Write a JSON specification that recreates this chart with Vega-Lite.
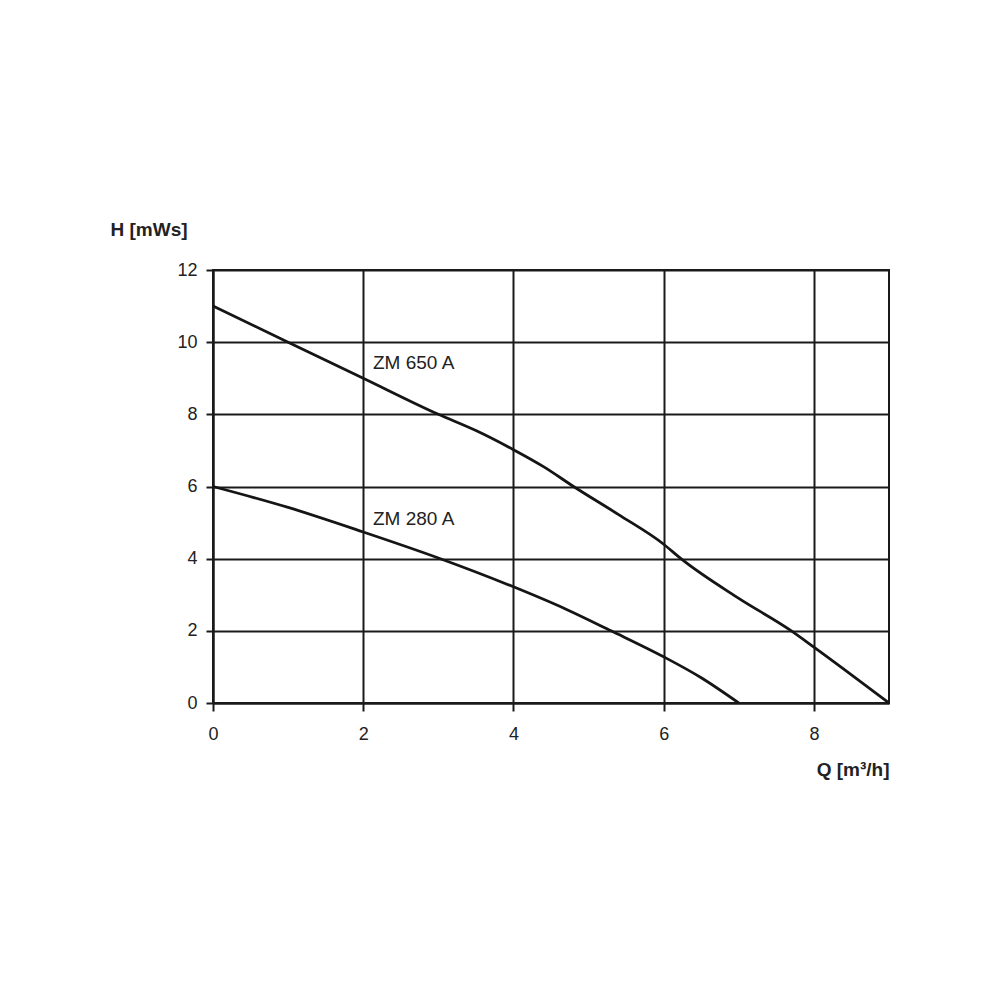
{
  "$schema": "https://vega.github.io/schema/vega-lite/v6.json",
  "width": 676,
  "height": 433,
  "autosize": {"type": "none"},
  "padding": {"left": 213, "top": 270, "right": 111, "bottom": 297},
  "background": "white",
  "config": {
    "view": {"stroke": "#1a1a1a", "strokeWidth": 2},
    "font": "Liberation Sans"
  },
  "datasets": {
    "curves": [
      {"pump": "ZM 650 A", "Q": 0, "H": 11.0},
      {"pump": "ZM 650 A", "Q": 1, "H": 10.0},
      {"pump": "ZM 650 A", "Q": 2, "H": 9.0},
      {"pump": "ZM 650 A", "Q": 3, "H": 8.0},
      {"pump": "ZM 650 A", "Q": 3.5, "H": 7.55},
      {"pump": "ZM 650 A", "Q": 4, "H": 7.02},
      {"pump": "ZM 650 A", "Q": 4.4, "H": 6.55},
      {"pump": "ZM 650 A", "Q": 4.8, "H": 6.0},
      {"pump": "ZM 650 A", "Q": 5.4, "H": 5.22},
      {"pump": "ZM 650 A", "Q": 6, "H": 4.4},
      {"pump": "ZM 650 A", "Q": 6.23, "H": 4.0},
      {"pump": "ZM 650 A", "Q": 7, "H": 2.9},
      {"pump": "ZM 650 A", "Q": 7.7, "H": 2.0},
      {"pump": "ZM 650 A", "Q": 8, "H": 1.55},
      {"pump": "ZM 650 A", "Q": 9, "H": 0.0},
      {"pump": "ZM 280 A", "Q": 0, "H": 6.0},
      {"pump": "ZM 280 A", "Q": 1, "H": 5.42},
      {"pump": "ZM 280 A", "Q": 2, "H": 4.74},
      {"pump": "ZM 280 A", "Q": 3, "H": 4.02},
      {"pump": "ZM 280 A", "Q": 4, "H": 3.22},
      {"pump": "ZM 280 A", "Q": 4.7, "H": 2.6},
      {"pump": "ZM 280 A", "Q": 5.3, "H": 2.0},
      {"pump": "ZM 280 A", "Q": 6, "H": 1.28},
      {"pump": "ZM 280 A", "Q": 6.5, "H": 0.7},
      {"pump": "ZM 280 A", "Q": 7.0, "H": 0.0}
    ],
    "labels": [
      {"text": "ZM 650 A", "Q": 2.13, "H": 9.42},
      {"text": "ZM 280 A", "Q": 2.13, "H": 5.1}
    ]
  },
  "layer": [
    {
      "data": {"name": "curves"},
      "mark": {"type": "line", "color": "#151515", "strokeWidth": 2.8, "interpolate": "monotone"},
      "encoding": {
        "x": {
          "field": "Q", "type": "quantitative",
          "scale": {"domain": [0, 9], "nice": false},
          "axis": {
            "values": [0, 2, 4, 6, 8], "format": "d", "labelFlush": false,
            "grid": true, "gridColor": "#1a1a1a", "gridWidth": 2, "gridOpacity": 1,
            "domainColor": "#1a1a1a", "domainWidth": 2,
            "tickColor": "#1a1a1a", "tickWidth": 2, "tickSize": 8,
            "labelFontSize": 18, "labelColor": "#222", "labelPadding": 14,
            "title": "Q [m³/h]", "titleFontSize": 19, "titleFontWeight": "bold", "titleColor": "#222",
            "titleAnchor": "end", "titleAlign": "right", "titleX": 676, "titleY": 66, "titleBaseline": "middle"
          }
        },
        "y": {
          "field": "H", "type": "quantitative",
          "scale": {"domain": [0, 12], "nice": false},
          "axis": {
            "values": [0, 2, 4, 6, 8, 10, 12], "labelFlush": false,
            "grid": true, "gridColor": "#1a1a1a", "gridWidth": 2, "gridOpacity": 1,
            "domainColor": "#1a1a1a", "domainWidth": 2,
            "tickColor": "#1a1a1a", "tickWidth": 2, "tickSize": 7,
            "labelFontSize": 18, "labelColor": "#222", "labelPadding": 9,
            "title": "H [mWs]", "titleFontSize": 19, "titleFontWeight": "bold", "titleColor": "#222",
            "titleAngle": 0, "titleAlign": "left", "titleBaseline": "middle", "titleX": -103, "titleY": -41
          }
        },
        "detail": {"field": "pump"}
      }
    },
    {
      "mark": {"type": "rule", "color": "#111", "strokeWidth": 3},
      "encoding": {"y": {"datum": 8}}
    },
    {
      "data": {"name": "labels"},
      "mark": {"type": "text", "align": "left", "baseline": "middle", "fontSize": 19, "color": "#222"},
      "encoding": {
        "x": {"field": "Q", "type": "quantitative"},
        "y": {"field": "H", "type": "quantitative"},
        "text": {"field": "text"}
      }
    }
  ]
}
